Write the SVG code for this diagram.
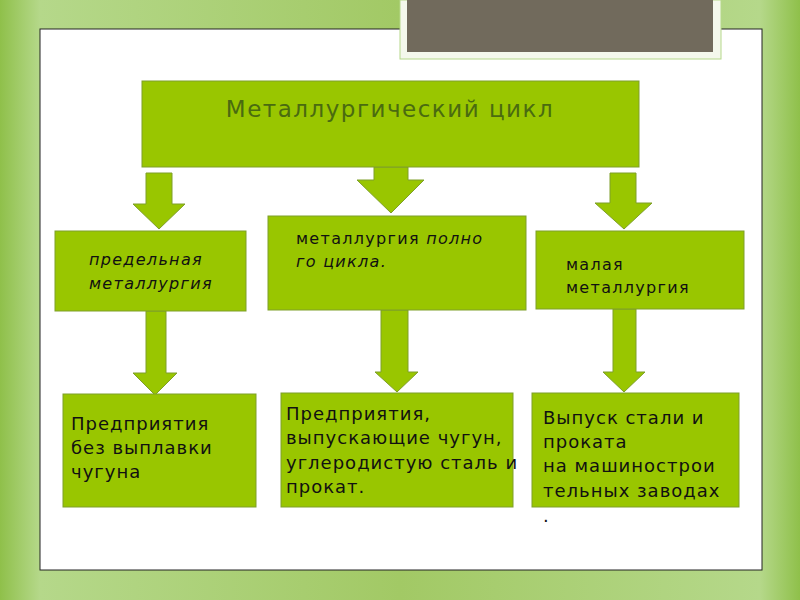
<svg xmlns="http://www.w3.org/2000/svg" width="800" height="600" viewBox="0 0 800 600">
<defs>
<linearGradient id="bg" x1="0" y1="0" x2="1" y2="0">
<stop offset="0" stop-color="#8fc04a"/><stop offset="0.05" stop-color="#b5d88a"/><stop offset="0.5" stop-color="#a2c965"/><stop offset="0.95" stop-color="#b5d88a"/><stop offset="1" stop-color="#8fc04a"/>
</linearGradient>
<style>
.b{fill:#99c600;stroke:#7e9f2a;stroke-width:1}
.a{fill:#99c600;stroke:#7e9f2a;stroke-width:1}
.t{font-family:"DejaVu Sans",sans-serif;font-size:18px;letter-spacing:1px;fill:#111}
.s{font-family:"DejaVu Sans",sans-serif;font-size:16px;letter-spacing:1.3px;fill:#111}
</style>
</defs>
<rect width="800" height="600" fill="url(#bg)"/>
<rect x="40" y="29" width="722" height="541" fill="#fff" stroke="#222" stroke-width="1"/>
<rect x="400" y="0" width="321" height="59" fill="#f4f8ec" stroke="#b5d88a"/>
<rect x="407" y="0" width="306" height="52" fill="#716a5c"/>
<g id="connectors">
<polygon class="a" points="146,173 172,173 172,204 185,204 159,229 133,204 146,204"/>
<polygon class="a" points="374,167 408,167 408,180 424,180 391,213 357,180 374,180"/>
<polygon class="a" points="610,173 636,173 636,203 652,203 624,229 595,203 610,203"/>
<polygon class="a" points="146,311 166,311 166,373 177,373 155,395 133,373 146,373"/>
<polygon class="a" points="381,310 408,310 408,372 418,372 397,392 375,372 381,372"/>
<polygon class="a" points="613,309 636,309 636,372 645,372 624,392 603,372 613,372"/>
</g>
<g id="top"><rect class="b" x="142" y="81" width="497" height="86"/>
<text x="390" y="117" text-anchor="middle" font-family="DejaVu Sans, sans-serif" font-size="23" letter-spacing="1.5" fill="#4a6b10">Металлургический цикл</text></g>
<g id="n1"><rect class="b" x="55" y="231" width="191" height="80"/>
<text class="s" font-style="italic" x="89" y="265">предельная</text><text class="s" font-style="italic" x="89" y="289">металлургия</text></g>
<g id="n2"><rect class="b" x="268" y="216" width="258" height="94"/>
<text class="s" x="296" y="244">металлургия <tspan font-style="italic">полно</tspan></text><text class="s" font-style="italic" x="296" y="267">го цикла.</text></g>
<g id="n3"><rect class="b" x="536" y="231" width="208" height="78"/>
<text class="s" x="566" y="270">малая</text><text class="s" x="566" y="293">металлургия</text></g>
<g id="n4"><rect class="b" x="63" y="394" width="193" height="113"/>
<text class="t" x="71" y="430">Предприятия</text><text class="t" x="71" y="454">без выплавки</text><text class="t" x="71" y="478">чугуна</text></g>
<g id="n5"><rect class="b" x="281" y="393" width="232" height="114"/>
<text class="t" x="286" y="420">Предприятия,</text><text class="t" x="286" y="444">выпускающие чугун,</text><text class="t" x="286" y="469">углеродистую сталь и</text><text class="t" x="286" y="493">прокат.</text></g>
<g id="n6"><rect class="b" x="532" y="393" width="207" height="114"/>
<text class="t" x="543" y="424">Выпуск стали и</text><text class="t" x="543" y="448">проката</text><text class="t" x="543" y="472">на машинострои</text><text class="t" x="543" y="497">тельных заводах</text><text class="t" x="543" y="522">.</text></g>
</svg>
